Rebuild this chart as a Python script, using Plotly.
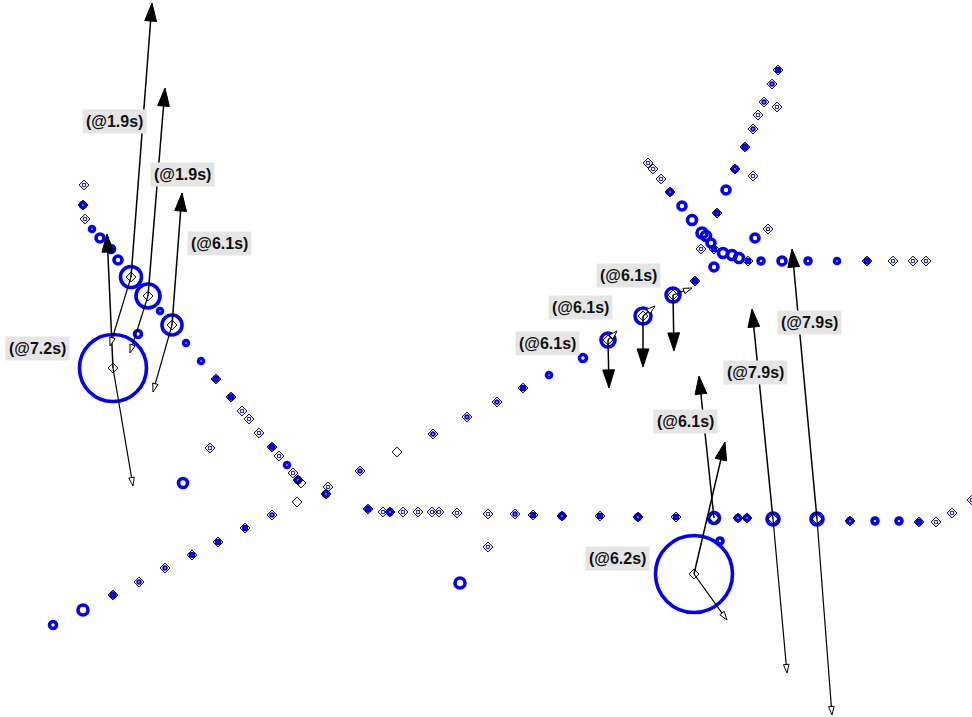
import plotly.graph_objects as go

W, H = 972, 717

# ---- ring markers (blue open circles), pixel-like data coordinates ----
ring_x = [84, 83, 85, 92, 100, 111, 118, 131, 148, 160, 172, 186, 201, 216, 231, 242, 249, 259, 272, 279, 287, 293, 298,
          138, 113, 183, 210,
          53, 83, 113, 139, 165, 192, 218, 245, 272, 328, 326, 360, 433, 467, 497, 523, 549, 583, 608, 643, 673, 695, 714, 701,
          368, 383, 390, 403, 418, 432, 439, 457, 488, 515, 533, 562, 600, 638, 676, 714, 738, 747, 773, 817, 850, 875, 899,
          919, 936, 952, 972, 488, 460, 720, 694,
          648, 653, 661, 670, 682, 692, 702, 706, 711, 714, 723, 732, 739, 748, 761, 782, 808, 837, 867, 893, 913, 926,
          717, 726, 735, 745, 753, 758, 764, 772, 778, 777, 753, 755, 768]
ring_y = [185, 205, 219, 229, 238, 249, 260, 277, 296, 311, 325, 343, 361, 379, 397, 411, 419, 433, 447, 456, 465, 473, 480,
          334, 368, 483, 448,
          625, 610, 595, 582, 568, 555, 542, 528, 515, 487, 494, 471, 434, 417, 402, 388, 375, 358, 340, 316, 295, 281, 267, 249,
          509, 512, 512, 512, 512, 512, 512, 513, 514, 514, 515, 516, 516, 517, 517, 518, 518, 518, 519, 519, 521, 521, 521,
          522, 522, 513, 500, 547, 583, 541, 574,
          163, 169, 179, 192, 206, 220, 233, 236, 243, 249, 253, 255, 258, 261, 261, 261, 261, 261, 261, 261, 261, 261,
          213, 190, 169, 147, 129, 115, 102, 84, 70, 107, 176, 238, 229]
ring_size = [1, 5, 1, 5, 8, 7, 8, 21, 24, 5, 20, 5, 5, 4, 4, 1, 1, 1, 4, 1, 5, 1, 5,
             7, 67, 9, 1,
             7, 10, 4, 2, 2, 3, 3, 3, 2, 1, 5, 2, 2, 2, 2, 3, 5, 7, 14, 16, 14, 4, 8, 1,
             4, 1, 5, 1, 1, 1, 1, 1, 1, 2, 3, 5, 3, 5, 3, 11, 5, 5, 12, 12, 5, 6, 6,
             4, 1, 1, 1, 1, 10, 6, 77,
             1, 1, 1, 5, 8, 9, 10, 9, 8, 3, 9, 9, 9, 3, 6, 8, 6, 5, 4, 1, 1, 1,
             4, 8, 5, 4, 2, 1, 2, 2, 3, 1, 1, 8, 1]

# ---- diamond markers (black outline) ----
diamond_x = [84, 83, 85, 131, 148, 172, 113, 216, 231, 242, 249, 259, 272, 279, 293, 298, 301, 210, 297,
             113, 139, 165, 192, 218, 245, 272, 328, 326, 360, 397, 433, 467, 497, 523, 608, 643, 673, 695, 701,
             368, 383, 390, 403, 418, 432, 439, 457, 488, 515, 533, 562, 600, 638, 676, 714, 738, 747, 773, 817,
             850, 919, 936, 952, 972, 488, 694,
             648, 653, 661, 670, 714, 748, 867, 893, 913, 926, 717, 735, 745, 753, 758, 764, 772, 778, 777, 753, 768]
diamond_y = [185, 205, 219, 277, 296, 325, 368, 379, 397, 411, 419, 433, 447, 456, 473, 480, 483, 448, 502,
             595, 582, 568, 555, 542, 528, 515, 487, 494, 471, 452, 434, 417, 402, 388, 340, 316, 295, 281, 249,
             509, 512, 512, 512, 512, 512, 512, 513, 514, 514, 515, 516, 516, 517, 517, 518, 518, 518, 519, 519,
             521, 522, 522, 513, 500, 547, 574,
             163, 169, 179, 192, 249, 261, 261, 261, 261, 261, 213, 169, 147, 129, 115, 102, 84, 70, 107, 176, 229]

# ---- events: point, filled-arrow head, open-arrow head, label ----
event_x = [131, 148, 172, 113, 608, 643, 673, 714, 694, 773, 817]
event_y = [277, 296, 325, 368, 340, 316, 295, 518, 574, 519, 519]
head_x = [152, 165, 182, 107, 609, 643, 674, 699, 725, 752, 792]
head_y = [3, 88, 193, 234, 388, 367, 351, 376, 442, 309, 249]
tail_x = [110, 130, 153, 133, 617, 655, 692, None, 727, 787, 832]
tail_y = [346, 353, 392, 486, 331, 306, 288, None, 620, 673, 715]
label_text = ["(@1.9s)", "(@1.9s)", "(@6.1s)", "(@7.2s)", "(@6.1s)", "(@6.1s)", "(@6.1s)",
              "(@6.1s)", "(@6.2s)", "(@7.9s)", "(@7.9s)"]
label_x = [114, 182, 219, 37, 547, 580, 628, 685, 617, 755, 809]
label_y = [121, 174, 243, 348, 343, 307, 275, 421, 558, 372, 322]

fig = go.Figure()

fig.add_trace(go.Scatter(
    x=ring_x, y=ring_y, mode="markers", hoverinfo="skip",
    marker=dict(symbol="circle-open", size=ring_size, color="#0000ff", opacity=1,
                line=dict(width=3.6, color="#0000ff")),
))

fig.add_trace(go.Scatter(
    x=diamond_x, y=diamond_y, mode="markers", hoverinfo="skip",
    marker=dict(symbol="diamond-open", size=7.5, color="#000000", opacity=1,
                line=dict(width=1, color="#000000")),
))


def arrow_trace(xs0, ys0, xs1, ys1, size, fill, lw):
    ax, ay, sz = [], [], []
    for x0, y0, x1, y1 in zip(xs0, ys0, xs1, ys1):
        if x1 is None:
            continue
        ax += [x0, x1, None]
        ay += [y0, y1, None]
        sz += [0, size, 0]
    return go.Scatter(
        x=ax, y=ay, mode="lines+markers", hoverinfo="skip", connectgaps=False,
        line=dict(color="#000000", width=lw),
        marker=dict(symbol="arrow", size=sz, angleref="previous", color=fill, opacity=1,
                    line=dict(color="#000000", width=1)),
    )


fig.add_trace(arrow_trace(event_x, event_y, head_x, head_y, 19, "#000000", 1.5))
fig.add_trace(arrow_trace(event_x, event_y, tail_x, tail_y, 9, "#ffffff", 1.2))

for t, lx, ly in zip(label_text, label_x, label_y):
    fig.add_annotation(
        x=lx, y=ly, xref="x", yref="y", text="<b>" + t + "</b>", showarrow=False,
        font=dict(family="Liberation Sans, Arial, sans-serif", size=16, color="#111111"),
        bgcolor="#e5e5e5", borderpad=3,
    )

fig.update_layout(
    width=W, height=H, margin=dict(l=0, r=0, t=0, b=0),
    paper_bgcolor="white", plot_bgcolor="white", showlegend=False,
    xaxis=dict(range=[0, W], visible=False, fixedrange=True),
    yaxis=dict(range=[H, 0], visible=False, fixedrange=True),
)

fig.write_html("out.html")
